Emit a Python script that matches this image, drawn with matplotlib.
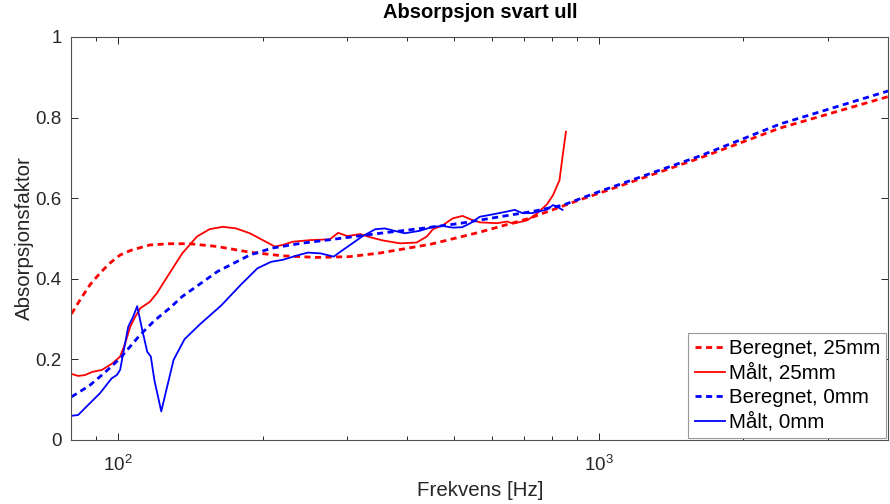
import numpy as np
import matplotlib
matplotlib.use('Agg')
import matplotlib.pyplot as plt
from matplotlib.ticker import LogLocator, NullFormatter, FixedLocator

plt.rcParams['font.family'] = ['Liberation Sans', 'DejaVu Sans']
plt.rcParams['mathtext.fontset'] = 'custom'
plt.rcParams['mathtext.rm'] = 'Liberation Sans'
plt.rcParams['mathtext.it'] = 'Liberation Sans:italic'

# Beregnet, 25mm (dashed red)
f_ber25 = [80, 83.3, 87.4, 91.7, 96.2, 101, 106, 111, 116.5, 128, 141, 161, 188, 220,
           259, 303, 351, 448, 567, 717, 914, 1006, 1626, 2384, 4000]
a_ber25 = [0.313, 0.347, 0.385, 0.414, 0.439, 0.459, 0.470, 0.477, 0.484, 0.487, 0.487,
           0.480, 0.466, 0.457, 0.453, 0.455, 0.464, 0.486, 0.516, 0.550, 0.596, 0.613,
           0.700, 0.774, 0.852]

# Beregnet, 0mm (dashed blue)
f_ber0 = [80, 83.3, 87.4, 91.7, 96.2, 101, 106, 111, 119, 128, 136, 148, 161, 188, 209,
          240, 276, 351, 428, 518, 623, 728, 844, 1006, 1626, 2384, 4000]
a_ber0 = [0.107, 0.120, 0.136, 0.157, 0.179, 0.203, 0.232, 0.260, 0.296, 0.327, 0.356,
          0.387, 0.418, 0.459, 0.476, 0.488, 0.497, 0.513, 0.525, 0.538, 0.554, 0.567,
          0.583, 0.617, 0.705, 0.784, 0.866]

# Målt, 25mm (solid red)
f_maalt25 = [80, 82.6, 85.3, 88.4, 92.6, 97.3, 101, 103.5, 106, 108.6, 111.3, 116.5,
             120.4, 128, 136, 146, 155, 165, 176, 188, 200, 212, 220, 231, 251, 276,
             287, 300, 319, 335, 356, 386, 418, 439, 452, 474, 497, 521, 545, 566, 615,
             645, 664, 710, 744, 781, 804, 829, 841, 855]
a_maalt25 = [0.164, 0.159, 0.161, 0.169, 0.174, 0.190, 0.207, 0.240, 0.281, 0.306, 0.327,
             0.343, 0.364, 0.414, 0.463, 0.505, 0.523, 0.529, 0.525, 0.513, 0.496, 0.480,
             0.484, 0.492, 0.496, 0.498, 0.514, 0.506, 0.511, 0.503, 0.495, 0.488, 0.490,
             0.505, 0.523, 0.533, 0.550, 0.556, 0.546, 0.540, 0.538, 0.542, 0.537, 0.545,
             0.562, 0.585, 0.608, 0.645, 0.703, 0.765]

# Målt, 0mm (solid blue)
f_maalt0 = [80, 82.6, 86, 91.7, 97, 99.4, 101, 102.5, 105, 107.5, 109.6, 112.3, 115, 117,
            119, 123, 126.5, 130.5, 137.5, 148, 164, 180, 195, 208, 220, 236, 248, 264,
            281, 290, 304, 322, 343, 359, 376, 395, 424, 452, 474, 497, 520, 541, 566,
            603, 645, 669, 694, 728, 781, 804, 825, 841]
a_maalt0 = [0.060, 0.062, 0.083, 0.116, 0.153, 0.161, 0.174, 0.215, 0.281, 0.306, 0.332,
            0.273, 0.219, 0.207, 0.149, 0.071, 0.132, 0.199, 0.250, 0.287, 0.334, 0.385,
            0.426, 0.442, 0.447, 0.458, 0.465, 0.463, 0.455, 0.467, 0.484, 0.505, 0.523,
            0.525, 0.519, 0.513, 0.519, 0.529, 0.531, 0.527, 0.528, 0.538, 0.554, 0.560,
            0.567, 0.571, 0.563, 0.563, 0.572, 0.583, 0.577, 0.571]

fig = plt.figure(figsize=(8.9, 5.04), dpi=100)
ax = fig.add_axes([0.0803, 0.127, 0.9175, 0.7996])

dash = (2.2, 1.6)
ax.plot(f_ber25, a_ber25, color='#ff0000', lw=2.0, ls='--', dashes=dash, label='Beregnet, 25mm')
ax.plot(f_maalt25, a_maalt25, color='#ff0000', lw=1.3, label='Målt, 25mm')
ax.plot(f_ber0, a_ber0, color='#0000ff', lw=2.0, ls='--', dashes=dash, label='Beregnet, 0mm')
ax.plot(f_maalt0, a_maalt0, color='#0000ff', lw=1.3, label='Målt, 0mm')

ax.set_xscale('log')
ax.set_xlim(80, 4000)
ax.set_ylim(0, 1)
ax.set_yticks([0, 0.2, 0.4, 0.6, 0.8, 1])
ax.set_yticklabels(['0', '0.2', '0.4', '0.6', '0.8', '1'])
ax.xaxis.set_major_locator(FixedLocator([100, 1000]))
ax.xaxis.set_minor_locator(LogLocator(base=10, subs=np.arange(2, 10)))
ax.xaxis.set_minor_formatter(NullFormatter())
ax.set_xticklabels([r'$\mathdefault{10^{2}}$', r'$\mathdefault{10^{3}}$'])

for s in ax.spines.values():
    s.set_color('#505050')
    s.set_linewidth(0.8)
ax.tick_params(which='both', direction='in', top=True, right=True, colors='#262626',
               labelsize=13.5, width=0.7)
ax.tick_params(which='major', length=5)
ax.tick_params(which='minor', length=3)
ax.tick_params(axis='y', pad=7)
ax.tick_params(axis='x', pad=11)

ax.set_xlabel('Frekvens [Hz]', fontsize=14.8, color='#262626', labelpad=4)
ax.set_ylabel('Absorpsjonsfaktor', fontsize=14.8, color='#262626', labelpad=1)
ax.set_title('Absorpsjon svart ull', fontsize=14.5, fontweight='bold', pad=14)

leg = ax.legend(loc='lower right', fontsize=14.8, fancybox=False, framealpha=1,
                edgecolor='#999999', borderaxespad=0.1, handlelength=1.5,
                handletextpad=0.15, labelspacing=0.25, borderpad=0.3)
leg.get_frame().set_linewidth(0.8)

fig.savefig('out.png', dpi=100)
